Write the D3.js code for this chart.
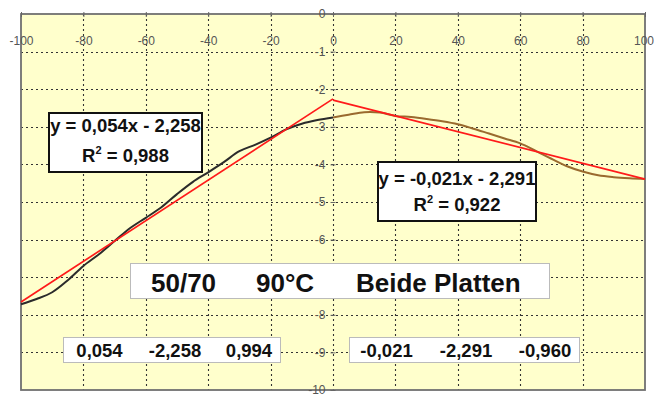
<!DOCTYPE html>
<html>
<head>
<meta charset="utf-8">
<script src="https://cdn.jsdelivr.net/npm/d3@7"></script>
<style>
  body { margin: 0; background: #fff; }
  svg { display: block; }
</style>
</head>
<body>
<div id="chart"></div>
<script>
// values
const xTicks = [-100, -80, -60, -40, -20, 0, 20, 40, 60, 80, 100];
const yTicks = [0, -1, -2, -3, -4, -5, -6, -7, -8, -9, -10];

// measured curve, left half (black) and right half (brown)
const measuredLeft = [
  [-100, -7.72], [-95, -7.58], [-90, -7.40], [-85, -7.08], [-80, -6.70],
  [-75, -6.39], [-70, -6.04], [-65, -5.69], [-60, -5.42], [-55, -5.14],
  [-50, -4.79], [-45, -4.47], [-40, -4.21], [-35, -3.94], [-30, -3.65],
  [-25, -3.48], [-20, -3.29], [-15, -3.07], [-10, -2.92], [-5, -2.82], [0, -2.75],
];
const measuredRight = [
  [0, -2.75], [5, -2.68], [10, -2.61], [15, -2.62], [20, -2.71], [25, -2.74],
  [30, -2.79], [35, -2.85], [40, -2.93], [45, -3.05], [50, -3.18], [55, -3.31],
  [60, -3.44], [65, -3.64], [70, -3.85], [75, -4.05], [80, -4.19], [85, -4.29],
  [90, -4.34], [95, -4.37], [100, -4.39],
];

// linear fits (red), end points
const fitLeft = [[-100, -7.658], [0, -2.258]];
const fitRight = [[0, -2.291], [100, -4.391]];

const eqLeft = ['y = 0,054x - 2,258', '0,988'];
const eqRight = ['y = -0,021x - 2,291', '0,922'];
const titleParts = ['50/70', '90°C', 'Beide Platten'];
const statsLeft = ['0,054', '-2,258', '0,994'];
const statsRight = ['-0,021', '-2,291', '-0,960'];

const width = 654;
const height = 397;
const plot = { left: 21, right: 645, top: 14, bottom: 390 };
const font = '"Liberation Sans", Arial, sans-serif';

const svg = d3
  .select('#chart')
  .append('svg')
  .attr('width', width)
  .attr('height', height);

const x = d3.scaleLinear().domain([-100, 100]).range([plot.left, plot.right]);
const y = d3.scaleLinear().domain([0, -10]).range([plot.top, plot.bottom]);

// plot background
svg
  .append('rect')
  .attr('x', plot.left)
  .attr('y', plot.top)
  .attr('width', plot.right - plot.left)
  .attr('height', plot.bottom - plot.top)
  .attr('fill', '#ffffcc');

// grid
const grid = svg.append('g').attr('stroke', '#333').attr('stroke-width', 1.1).attr('stroke-dasharray', '2,3');
grid
  .selectAll('.h')
  .data(yTicks.filter((d) => d !== 0 && d !== -10))
  .enter()
  .append('line')
  .attr('x1', plot.left)
  .attr('x2', plot.right)
  .attr('y1', (d) => Math.round(y(d)) + 0.5)
  .attr('y2', (d) => Math.round(y(d)) + 0.5);
grid
  .selectAll('.v')
  .data(xTicks.filter((d) => d !== -100 && d !== 100))
  .enter()
  .append('line')
  .attr('y1', plot.top)
  .attr('y2', plot.bottom)
  .attr('x1', (d) => Math.round(x(d)) + 0.5)
  .attr('x2', (d) => Math.round(x(d)) + 0.5);

// border
svg
  .append('rect')
  .attr('x', plot.left)
  .attr('y', plot.top)
  .attr('width', plot.right - plot.left)
  .attr('height', plot.bottom - plot.top)
  .attr('fill', 'none')
  .attr('stroke', '#707070')
  .attr('stroke-width', 1.8);

// x axis on top (y = 0), y axis at x = 0
const xAxis = d3.axisBottom(x).tickValues(xTicks).tickSize(5).tickSizeOuter(0).tickFormat((d) => String(d));
svg
  .append('g')
  .attr('transform', `translate(0, ${plot.top - 2})`)
  .call(xAxis)
  .call((g) => g.select('.domain').remove())
  .call((g) => g.selectAll('line').attr('stroke', '#666'))
  .call((g) =>
    g
      .selectAll('text')
      .attr('y', 24)
      .attr('fill', '#555')
      .style('font-family', font)
      .style('font-size', '12px')
  )
  .call((g) =>
    g
      .selectAll('.tick')
      .filter((d) => d === 100)
      .select('text')
      .attr('text-anchor', 'end')
      .attr('x', 8.5)
  );

const yAxis = d3.axisLeft(y).tickValues(yTicks).tickSize(5).tickSizeOuter(0).tickFormat((d) => String(d));
svg
  .append('g')
  .attr('transform', `translate(${x(0) + 2.5}, 0)`)
  .call(yAxis)
  .call((g) => g.select('.domain').remove())
  .call((g) => g.selectAll('line').attr('stroke', '#666'))
  .call((g) =>
    g
      .selectAll('text')
      .attr('x', -10)
      .attr('fill', '#555')
      .style('font-family', font)
      .style('font-size', '12px')
  );

// curves
const line = d3
  .line()
  .x((d) => x(d[0]))
  .y((d) => y(d[1]))
  .curve(d3.curveCatmullRom.alpha(0.5));

svg
  .append('path')
  .datum(measuredLeft)
  .attr('d', line)
  .attr('fill', 'none')
  .attr('stroke', '#2b2b2b')
  .attr('stroke-width', 2);

svg
  .append('path')
  .datum(measuredRight)
  .attr('d', line)
  .attr('fill', 'none')
  .attr('stroke', '#9a6a2e')
  .attr('stroke-width', 2);

const straight = d3
  .line()
  .x((d) => x(d[0]))
  .y((d) => y(d[1]));

[fitLeft, fitRight].forEach((fit) => {
  svg
    .append('path')
    .datum(fit)
    .attr('d', straight)
    .attr('fill', 'none')
    .attr('stroke', '#ff1a1a')
    .attr('stroke-width', 1.7);
});

// equation boxes
function eqBox(bx, by, bw, bh, lines, base1, base2) {
  const g = svg.append('g');
  g.append('rect')
    .attr('x', bx)
    .attr('y', by)
    .attr('width', bw)
    .attr('height', bh)
    .attr('fill', '#fff')
    .attr('stroke', '#111')
    .attr('stroke-width', 2);
  const cx = bx + bw / 2;
  g.append('text')
    .attr('x', cx)
    .attr('y', base1)
    .attr('text-anchor', 'middle')
    .style('font-family', font)
    .style('font-weight', 'bold')
    .style('font-size', '18.5px')
    .attr('fill', '#111')
    .text(lines[0]);
  const t = g
    .append('text')
    .attr('x', cx)
    .attr('y', base2)
    .attr('text-anchor', 'middle')
    .style('font-family', font)
    .style('font-weight', 'bold')
    .style('font-size', '18.5px')
    .attr('fill', '#111');
  t.append('tspan').text('R');
  t.append('tspan').attr('dy', -8).style('font-size', '11px').text('2');
  t.append('tspan').attr('dy', 8).text(' = ' + lines[1]);
}

eqBox(49, 113, 153, 59, eqLeft, 132, 162);
eqBox(378, 162, 158, 59, eqRight, 185, 211);

// title box
svg
  .append('rect')
  .attr('x', 130.5)
  .attr('y', 263.5)
  .attr('width', 419)
  .attr('height', 35)
  .attr('fill', '#fff')
  .attr('stroke', '#bbb')
  .attr('stroke-width', 1);

const titleX = [151, 256, 356];
svg
  .selectAll('.title')
  .data(titleParts)
  .enter()
  .append('text')
  .attr('x', (d, i) => titleX[i])
  .attr('y', 292)
  .style('font-family', font)
  .style('font-weight', 'bold')
  .style('font-size', '26px')
  .attr('fill', '#111')
  .text((d) => d);

// stats boxes
function statsBox(bx, bw, values, centers) {
  svg
    .append('rect')
    .attr('x', bx + 0.5)
    .attr('y', 337.5)
    .attr('width', bw)
    .attr('height', 25)
    .attr('fill', '#fff')
    .attr('stroke', '#bbb')
    .attr('stroke-width', 1);
  values.forEach((v, i) => {
    svg
      .append('text')
      .attr('x', centers[i])
      .attr('y', 356.5)
      .attr('text-anchor', 'middle')
      .style('font-family', font)
      .style('font-weight', 'bold')
      .style('font-size', '18.5px')
      .attr('fill', '#111')
      .text(v);
  });
}

statsBox(63, 217, statsLeft, [99.5, 175, 249]);
statsBox(349, 230, statsRight, [386.5, 466, 545]);
</script>
</body>
</html>
